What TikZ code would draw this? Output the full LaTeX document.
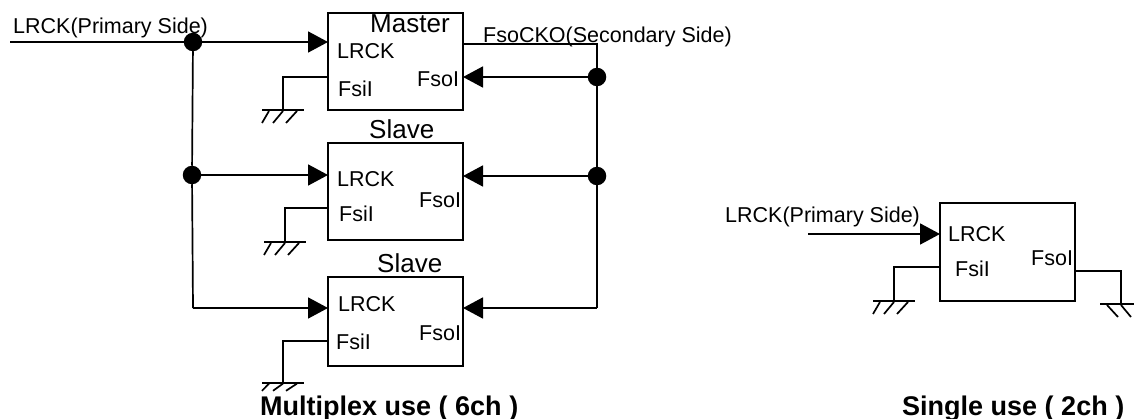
\documentclass[tikz,border=0pt]{standalone}
\usepackage{fontspec}
\setmainfont{Liberation Sans}
\usetikzlibrary{arrows.meta}
\tikzset{
    chip box/.style={rectangle, draw=black, line width=1.7pt, minimum width=135pt, anchor=north west, outer sep=0pt, inner sep=0pt},
    junction/.style={circle, fill=black, minimum size=18.5pt, inner sep=0pt, outer sep=0pt},
    wire/.style={draw=black, line width=1.7pt},
    wire arrow/.style={wire, -{Triangle[length=20pt, width=21pt]}},
    pin label/.style={anchor=base west, inner sep=0pt, font=\fontsize{21.5}{24}\selectfont},
    head label/.style={anchor=base west, inner sep=0pt, font=\fontsize{26}{30}\selectfont},
    caption label/.style={anchor=base west, inner sep=0pt, font=\fontsize{27}{30}\selectfont\bfseries},
    pics/ground/.style={code={
        \draw[wire] (-21,0) -- (21,0);
        \draw[wire] (-14,1) -- (-21,13);
        \draw[wire] (0,1) -- (-10,13);
        \draw[wire] (14,1) -- (3,13);
    }},
}

\begin{document}
\begin{tikzpicture}[x=1pt, y=-1pt]
    \useasboundingbox (0,0) rectangle (1134,419);

    % blocks
    \node[chip box, minimum height=97pt] (boxM) at (328,13) {};
    \node[chip box, minimum height=97pt] (boxA) at (328,143) {};
    \node[chip box, minimum height=89pt] (boxB) at (328,277) {};
    \node[chip box, minimum height=98pt] (boxS) at (940,203) {};

    % block titles
    \node[head label] (titleM) at (370,33) {Master};
    \node[head label] (titleA) at (369,139) {Slave};
    \node[head label] (titleB) at (377,273) {Slave};

    % pin names
    \node[pin label] (lrckM) at (337,59) {LRCK};
    \node[pin label] (fsilM) at (338,97) {FsiI};
    \node[pin label] (fsolM) at (417,87) {FsoI};
    \node[pin label] (lrckA) at (337,187) {LRCK};
    \node[pin label] (fsilA) at (339,222) {FsiI};
    \node[pin label] (fsolA) at (419,208) {FsoI};
    \node[pin label] (lrckB) at (338,312) {LRCK};
    \node[pin label] (fsilB) at (336,349) {FsiI};
    \node[pin label] (fsolB) at (419,341) {FsoI};
    \node[pin label] (lrckS) at (948,242) {LRCK};
    \node[pin label] (fsilS) at (955,277) {FsiI};
    \node[pin label] (fsolS) at (1031,266) {FsoI};

    % signal names
    \node[pin label] (priM) at (13,34) {LRCK(Primary Side)};
    \node[pin label] (secM) at (483,43) {FsoCKO(Secondary Side)};
    \node[pin label] (priS) at (725,223) {LRCK(Primary Side)};

    % captions
    \node[caption label] (capM) at (260,415) {Multiplex use ( 6ch )};
    \node[caption label] (capS) at (902,415) {Single use ( 2ch )};

    % primary side
    \node[junction] (jPriA) at (193,42) {};
    \node[junction] (jPriB) at (192,175) {};
    \coordinate (inM) at (10,42);
    \coordinate (priEnd) at (193,308);
    \draw[wire] (inM) -- (jPriA);
    \draw[wire arrow] (jPriA) -- (jPriA -| boxM.west);
    \draw[wire arrow] (jPriB) -- (jPriB -| boxA.west);
    \draw[wire] (jPriA) -- (jPriB) -- (priEnd);
    \draw[wire arrow] (priEnd) -- (priEnd -| boxB.west);

    % secondary side
    \node[junction] (jSecA) at (597,77) {};
    \node[junction] (jSecB) at (597,176) {};
    \coordinate (secTop) at (597,44);
    \coordinate (secEnd) at (597,308);
    \draw[wire] (secTop -| boxM.east) -- (secTop) -- (jSecA);
    \draw[wire] (jSecA) -- (jSecB) -- (secEnd);
    \draw[wire arrow] (jSecA) -- (jSecA -| boxM.east);
    \draw[wire arrow] (jSecB) -- (jSecB -| boxA.east);
    \draw[wire arrow] (secEnd) -- (secEnd -| boxB.east);

    % tied pins
    \coordinate (tieM) at (283,77);
    \coordinate (gndM) at (283,110);
    \draw[wire] (tieM -| boxM.west) -- (tieM) -- (gndM);
    \pic at (gndM) {ground};
    \coordinate (tieA) at (285,208);
    \coordinate (gndA) at (285,242);
    \draw[wire] (tieA -| boxA.west) -- (tieA) -- (gndA);
    \pic at (gndA) {ground};
    \coordinate (tieB) at (283,341);
    \coordinate (gndB) at (283,383);
    \draw[wire] (tieB -| boxB.west) -- (tieB) -- (gndB);
    \pic[yscale=0.6] at (gndB) {ground};

    % single use
    \coordinate (inS) at (808,234);
    \draw[wire arrow] (inS) -- (inS -| boxS.west);
    \coordinate (tieS) at (894,267);
    \coordinate (gndS) at (894,301);
    \draw[wire] (tieS -| boxS.west) -- (tieS) -- (gndS);
    \pic at (gndS) {ground};
    \coordinate (tieO) at (1121,271);
    \coordinate (gndO) at (1121,304);
    \draw[wire] (tieO -| boxS.east) -- (tieO) -- (gndO);
    \pic[xscale=-1] at (gndO) {ground};
\end{tikzpicture}
\end{document}
